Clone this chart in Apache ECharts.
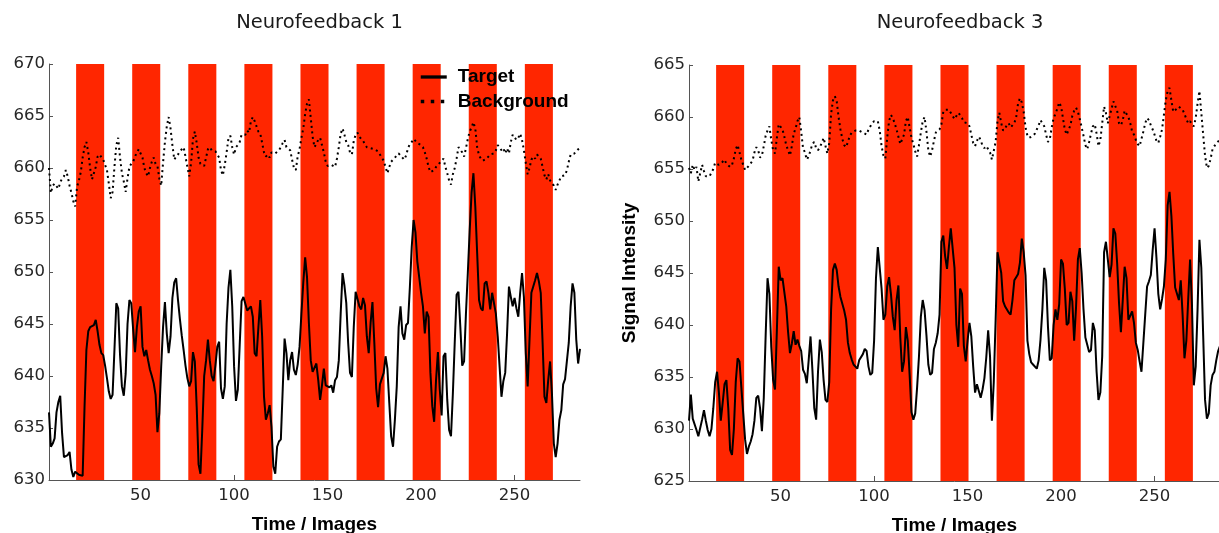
<!DOCTYPE html>
<html><head><meta charset="utf-8">
<script src="https://cdn.jsdelivr.net/npm/echarts@6/dist/echarts.min.js"></script>
<style>html,body{margin:0;padding:0;background:#fff;}#c{width:1219px;height:533px;}</style>
</head><body><div id="c"></div>
<script>
// ---- data (time index starts at 1) ----
const target1 = [
636.5,633.2,633.5,634.0,636.5,637.5,638.1,634.5,632.2,632.2,
632.4,632.7,631.0,630.3,630.8,630.9,630.5,630.6,630.4,637.0,
642.5,644.3,644.7,644.8,644.9,645.4,644.3,643.0,642.2,642.0,
641.0,639.8,638.5,637.8,638.2,642.5,647.0,646.5,642.0,639.0,
638.1,640.2,645.0,647.3,647.0,644.5,642.3,644.7,646.2,646.7,
642.8,641.9,642.5,641.5,640.6,640.0,639.3,638.2,634.6,636.4,
640.9,644.7,647.1,644.1,642.2,643.8,647.5,649.0,649.4,647.3,
645.5,643.9,642.5,641.0,639.8,639.0,639.5,642.3,641.4,637.0,
631.5,630.6,635.0,640.0,641.5,643.5,641.5,640.0,639.5,641.0,
642.8,643.3,638.8,637.8,639.0,645.0,648.5,650.2,646.7,640.9,
637.6,638.7,643.0,647.2,647.6,647.7,646.3,646.5,646.7,645.7,
642.2,641.9,644.7,647.3,643.8,638.0,635.8,636.4,637.2,635.1,
631.3,630.6,633.2,633.7,633.9,638.7,643.6,642.2,639.6,641.5,
642.3,640.6,640.1,641.1,642.8,646.0,649.0,651.4,649.5,645.1,
641.5,640.4,640.4,641.2,639.6,637.7,639.1,640.7,639.1,639.0,
638.9,639.1,638.4,639.6,639.9,641.5,646.0,649.9,648.7,647.0,
643.2,640.3,639.9,644.7,648.1,648.1,646.7,646.4,647.5,646.8,
643.8,642.2,645.1,647.1,643.2,638.8,637.0,639.2,639.2,640.3,
641.9,640.7,637.4,634.2,633.2,635.8,639.0,644.7,646.7,644.1,
643.5,644.9,645.1,648.5,652.4,655.0,653.8,651.0,649.5,648.0,
646.7,644.1,646.2,645.7,640.3,637.1,635.6,639.6,642.3,638.7,
636.2,641.9,642.2,637.7,634.8,634.2,638.3,643.2,647.8,648.1,
644.7,641.0,641.4,646.0,649.9,654.0,657.6,659.5,656.3,651.8,
647.3,646.5,646.3,648.9,649.1,648.0,646.4,648.0,648.1,646.0,
643.8,640.9,638.0,639.5,640.3,644.1,648.6,647.6,646.7,647.5,
646.5,645.7,648.0,649.9,647.6,642.2,639.0,643.5,648.0,648.6,
649.2,649.9,649.1,648.0,643.2,638.0,637.4,639.6,641.4,638.3,
633.5,632.2,633.5,635.8,636.7,639.2,639.7,639.6,643.2,646.7,
648.9,648.0,643.5,641.2,642.6];

const background1 = [
660.0,657.6,658.3,658.5,658.4,658.0,658.6,659.0,659.2,659.8,
659.2,658.3,657.6,656.8,656.3,658.2,658.8,659.6,661.0,662.0,
662.5,661.5,660.0,658.9,658.8,660.1,661.1,661.3,661.3,660.8,
660.8,659.8,658.5,657.1,657.7,660.1,662.2,662.9,661.0,659.5,
658.7,657.7,659.0,660.1,660.4,660.6,661.1,661.5,661.8,661.9,
661.0,660.0,659.5,659.2,660.0,660.6,661.0,660.4,660.2,659.0,
658.3,660.5,662.5,664.0,664.9,663.8,662.2,660.8,661.1,661.3,
661.6,661.8,662.0,661.1,660.1,659.2,660.5,662.8,663.5,662.4,
661.0,660.4,660.4,660.2,661.0,661.8,662.0,661.7,661.7,661.6,
661.5,661.0,659.8,659.3,660.3,661.5,662.9,663.1,662.0,661.3,
662.0,662.2,662.5,663.2,663.3,663.2,663.6,663.4,664.5,664.9,
664.5,664.0,663.5,663.3,662.4,661.5,661.1,661.3,661.0,661.5,
661.4,661.4,661.4,661.7,662.0,662.4,662.7,662.0,662.0,661.7,
660.8,660.0,659.8,661.1,661.8,662.9,663.8,665.2,666.2,666.6,
664.8,663.0,662.0,662.0,662.7,662.9,663.0,661.5,660.6,660.2,
660.3,660.3,660.4,660.1,660.9,662.0,663.3,663.8,663.2,662.5,
662.2,661.5,661.3,662.6,663.2,663.4,663.0,662.8,662.6,662.5,
662.0,662.1,661.9,661.8,661.8,661.7,661.6,661.5,661.0,660.7,
660.1,659.5,660.1,660.6,660.7,661.0,661.2,661.4,661.2,661.0,
660.8,661.2,661.9,662.3,662.5,662.8,662.8,662.4,662.4,662.2,
662.0,661.5,660.9,660.1,659.6,659.6,659.8,660.1,660.3,660.4,
660.7,660.9,660.1,659.5,658.8,658.4,659.4,660.0,660.9,662.0,
662.0,661.5,661.1,661.9,662.8,663.5,663.9,664.4,663.8,662.0,
661.2,660.9,660.7,660.6,660.9,661.1,661.3,661.4,661.4,661.7,
662.2,662.0,661.7,661.9,661.4,661.9,661.4,662.5,663.2,663.1,
662.7,662.9,663.3,662.7,661.7,660.5,659.4,660.0,660.8,661.1,
660.9,661.3,661.3,660.9,660.1,659.3,658.9,659.4,658.8,658.8,
658.3,657.9,658.4,658.8,659.2,659.3,659.3,659.8,660.6,661.3,
661.3,661.4,661.3,661.8,661.9];

const target3 = [
630.8,633.3,631.0,631.0,629.9,629.3,629.4,630.9,631.8,630.8,
629.9,629.3,630.0,632.0,634.5,635.5,633.5,630.8,632.5,634.3,
634.7,632.0,628.0,627.5,630.0,634.5,636.8,636.5,634.0,631.5,
629.0,627.6,628.3,628.8,629.5,630.8,633.0,633.2,632.0,629.8,
633.0,639.0,644.5,643.0,637.9,634.7,633.8,639.5,645.6,644.3,
644.5,644.5,641.8,639.3,637.3,638.2,639.4,638.1,638.6,638.0,
637.5,635.7,635.3,634.4,636.6,638.9,635.7,632.0,630.9,635.5,
638.6,637.4,634.7,632.8,632.6,634.5,641.5,645.3,645.9,645.3,
643.7,642.7,642.7,641.4,640.5,638.3,637.3,636.7,636.2,636.2,
635.8,636.6,636.7,637.2,637.7,637.5,636.0,635.2,635.4,638.5,
644.5,647.5,647.5,643.5,640.5,641.0,643.7,644.6,643.0,640.8,
639.5,642.4,643.8,638.8,635.5,636.5,639.8,638.5,635.2,631.6,
630.9,631.5,634.0,637.0,640.8,642.4,641.4,639.0,636.2,635.2,
635.4,637.7,638.3,639.2,641.0,648.0,648.6,646.6,645.4,647.5,
649.3,649.3,645.5,640.0,637.9,643.5,643.0,638.0,636.5,638.5,
640.2,638.9,636.0,633.5,634.3,634.3,633.0,633.8,634.9,636.9,
639.5,637.0,630.8,634.5,640.5,647.0,647.0,645.0,642.3,641.8,
641.8,641.2,641.0,642.4,644.3,644.6,644.9,646.0,648.3,647.0,
644.8,638.5,637.2,636.4,636.2,636.2,635.8,636.6,638.6,641.5,
645.5,644.3,639.8,636.6,636.8,640.0,641.5,640.5,642.0,646.3,
645.9,643.5,640.0,640.2,643.2,642.3,638.5,641.7,646.3,647.4,
645.0,641.5,638.8,638.1,637.4,637.6,640.2,639.5,635.5,632.8,
633.5,637.0,647.0,648.0,646.3,644.6,645.8,649.3,648.8,645.9,
642.1,639.3,642.4,645.6,644.5,640.5,640.5,641.3,640.2,638.3,
637.6,636.5,635.5,635.6,641.0,643.7,644.2,644.8,647.2,649.3,
646.5,643.0,641.5,642.5,643.7,646.3,651.5,652.8,650.5,646.8,
643.6,643.0,642.4,644.3,641.0,636.8,638.5,642.5,646.3,642.0,
634.2,636.0,641.5,648.2,645.5,639.0,632.8,631.0,631.5,634.2,
635.2,635.5,636.6,637.5,638.0];

const background3 = [
655.1,654.6,655.4,654.9,655.2,653.8,654.6,655.4,654.8,654.3,
654.3,654.3,654.2,655.0,655.6,655.6,655.4,655.5,655.7,655.9,
655.5,655.6,655.2,655.4,656.0,656.9,657.3,656.6,655.9,655.4,
654.9,655.0,655.3,655.3,655.8,656.6,657.1,656.8,656.1,656.3,
657.2,658.2,658.7,659.1,657.8,656.8,656.5,658.0,659.3,659.3,
658.8,658.1,657.3,656.8,656.3,657.2,658.4,658.9,659.6,660.0,
658.6,657.0,656.6,655.9,656.2,656.8,657.4,657.6,657.0,656.8,
657.1,657.5,658.0,657.2,656.5,657.5,660.3,661.6,662.0,661.5,
660.0,658.8,657.9,657.3,657.1,657.6,658.2,658.5,658.6,658.7,
658.8,658.7,658.6,658.5,658.4,658.3,658.8,659.1,659.4,659.6,
659.7,659.6,658.7,657.2,656.3,656.0,658.0,659.6,660.2,659.9,
659.4,658.8,658.1,657.4,657.4,658.3,659.6,660.0,659.0,658.0,
657.4,656.7,656.2,657.3,658.5,659.6,660.0,658.6,656.8,656.2,
656.8,657.7,658.5,658.6,658.8,659.3,660.5,660.7,660.6,660.7,
660.4,660.1,659.8,659.9,660.4,660.2,659.9,659.5,659.4,659.4,
659.1,658.3,657.5,657.2,657.7,658.1,657.8,657.2,657.0,657.2,
657.2,656.6,655.9,655.8,657.6,659.6,660.4,659.4,658.7,658.9,
659.2,659.4,659.0,659.0,659.4,660.0,661.3,661.8,661.4,660.5,
659.0,658.2,658.0,658.0,658.2,658.4,658.8,659.2,659.7,659.4,
659.1,658.3,657.6,657.9,659.0,659.9,660.3,660.8,661.4,661.0,
659.9,658.8,658.3,658.2,659.2,660.1,660.6,660.9,660.5,659.8,
659.0,658.2,657.3,656.9,657.6,658.4,659.1,659.3,658.4,657.2,
657.8,659.4,661.0,660.4,659.4,659.4,660.8,661.5,661.4,660.6,
659.4,659.2,659.7,660.6,660.6,660.0,659.4,658.6,658.3,657.8,
657.4,657.2,657.9,658.6,659.4,659.9,659.7,659.2,658.8,658.3,
657.7,657.5,658.1,658.8,660.2,661.6,662.5,662.8,661.6,660.5,
660.4,660.8,661.0,661.1,660.7,660.3,659.8,659.4,659.6,659.3,
659.1,659.9,661.3,662.5,660.4,658.3,656.3,655.1,655.3,656.0,
656.9,657.2,657.5,657.6,657.8];

// stimulation blocks: first image of each block, block length in images
const blockOnsets = [16, 46, 76, 106, 136, 166, 196, 226, 256];
const blockLength = 15;

const titles = ['Neurofeedback 1', 'Neurofeedback 3'];
const xTickValues = [50, 100, 150, 200, 250];
const xLabel = 'Time / Images';
const yLabel = 'Signal Intensity';
const seriesNames = ['Target', 'Background'];
const yRangeLeft = [630, 670];
const yRangeRight = [625, 665];
const yStep = 5;

// ---- chart ----
const REG = 'DejaVu Sans';
const BOLD = 'Liberation Sans';
const AXIS_COLOR = '#555';
const RED = '#ff2600';

const toPairs = arr => arr.map((v, i) => [i + 1, v]);
const bands = blockOnsets.map(s => [{ xAxis: s - 0.5 }, { xAxis: s - 0.5 + blockLength }]);

function xAxisCfg(gi) {
  return {
    type: 'value', gridIndex: gi, min: 1, max: 285,
    name: xLabel, nameLocation: 'middle', nameGap: 35,
    nameTextStyle: { fontFamily: BOLD, fontWeight: 'bold', fontSize: 19, color: '#000' },
    axisLine: { show: true, lineStyle: { color: AXIS_COLOR, width: 1 } },
    axisTick: { show: true, inside: true, length: 5, customValues: xTickValues, lineStyle: { color: AXIS_COLOR } },
    axisLabel: { customValues: xTickValues, margin: 7, fontFamily: REG, fontSize: 16.5, color: '#262626' },
    splitLine: { show: false }
  };
}
function yAxisCfg(gi, range, name) {
  return {
    type: 'value', gridIndex: gi, min: range[0], max: range[1], interval: yStep,
    name: name || '', nameLocation: 'middle', nameGap: 50,
    nameTextStyle: { fontFamily: BOLD, fontWeight: 'bold', fontSize: 19, color: '#000' },
    axisLine: { show: true, lineStyle: { color: AXIS_COLOR, width: 1 } },
    axisTick: { show: true, inside: true, length: 4, lineStyle: { color: AXIS_COLOR } },
    axisLabel: { margin: 4, fontFamily: REG, fontSize: 16.5, color: '#262626' },
    splitLine: { show: false }
  };
}
function panelSeries(gi, tgt, bg) {
  return [
    { type: 'line', xAxisIndex: gi, yAxisIndex: gi, data: [], z: 1, silent: true,
      markArea: { silent: true, itemStyle: { color: RED, borderWidth: 0, opacity: 1 }, data: bands } },
    { name: seriesNames[1], type: 'line', xAxisIndex: gi, yAxisIndex: gi, data: toPairs(bg), z: 3,
      symbol: 'none', itemStyle: { color: '#000' },
      lineStyle: { color: '#000', width: 2, type: [2, 3.5] } },
    { name: seriesNames[0], type: 'line', xAxisIndex: gi, yAxisIndex: gi, data: toPairs(tgt), z: 4,
      symbol: 'none', itemStyle: { color: '#000' },
      lineStyle: { color: '#000', width: 2 } }
  ];
}

const chart = echarts.init(document.getElementById('c'), null, { renderer: 'canvas' });
chart.setOption({
  animation: false,
  backgroundColor: '#fff',
  title: [
    { text: titles[0], left: 314.5, top: 8, textAlign: 'center',
      textStyle: { fontFamily: REG, fontWeight: 'normal', fontSize: 19.5, color: '#1a1a1a', lineHeight: 20 } },
    { text: titles[1], left: 955, top: 8, textAlign: 'center',
      textStyle: { fontFamily: REG, fontWeight: 'normal', fontSize: 19.5, color: '#1a1a1a', lineHeight: 20 } }
  ],
  legend: {
    left: 419, top: 67, orient: 'vertical', selectedMode: false, padding: 0,
    itemWidth: 26, itemHeight: 14, itemGap: 4.5,
    itemStyle: { opacity: 0, borderWidth: 0 },
    textStyle: { fontFamily: BOLD, fontWeight: 'bold', fontSize: 19, color: '#000', lineHeight: 20, padding: [0, 0, 0, 6] },
    data: [
      { name: seriesNames[0], lineStyle: { width: 3.3 } },
      { name: seriesNames[1], lineStyle: { width: 3.5, type: [3.5, 6.5] } }
    ]
  },
  grid: [
    { left: 49, right: 639, top: 64, bottom: 53, containLabel: false, outerBoundsMode: 'none' },
    { left: 689, right: -1, top: 65, bottom: 52, containLabel: false, outerBoundsMode: 'none' }
  ],
  xAxis: [xAxisCfg(0), xAxisCfg(1)],
  yAxis: [yAxisCfg(0, yRangeLeft, ''), yAxisCfg(1, yRangeRight, yLabel)],
  series: [].concat(panelSeries(0, target1, background1), panelSeries(1, target3, background3))
});
</script>
</body></html>
